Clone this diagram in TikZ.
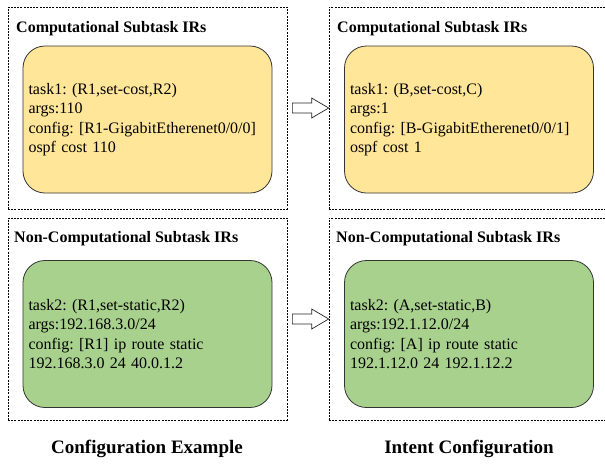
\documentclass[tikz,border=0pt]{standalone}
\usepackage{fontspec}
\setmainfont{Liberation Serif}
\frenchspacing
\usetikzlibrary{calc}

\tikzset{
    group/.style={draw,line width=0.7pt,dash pattern=on 2pt off 1.2pt,inner sep=0pt},
    grouptitle/.style={anchor=base west,inner sep=0pt,font=\fontsize{16}{19}\selectfont\bfseries},
    irbox/.style={draw=black!80,line width=0.8pt,rounded corners=22pt,inner xsep=5.5pt,
        minimum width=249pt,minimum height=147pt,text width=238pt,align=left,
        font=\fontsize{16}{19.3}\selectfont},
    caption/.style={inner sep=0pt,font=\fontsize{19}{22}\selectfont\bfseries},
    hollow/.style={draw=black!85,line width=0.7pt,fill=white}
}
\definecolor{compfill}{HTML}{FFE699}
\definecolor{noncompfill}{HTML}{A9D18E}

% hollow block arrow from the east side of #1 to the west side of #2
\newcommand{\blockarrow}[2]{%
    \draw[hollow] ($(#1.east)+(5pt,5pt)$) -- ($(#2.west)+(-17pt,5pt)$) -- ++(0,5pt)
        -- (#2.west) -- ++(-17pt,-10pt) -- ++(0,5pt)
        -- ($(#1.east)+(5pt,-5pt)$) -- cycle;}

\begin{document}
\begin{tikzpicture}[x=1pt,y=1pt]
        \useasboundingbox (0,0) rectangle (605,-464);

        % dashed groups
        \node[group,minimum width=279pt,minimum height=202pt] (exComp) at (147.5,-108){};
        \node[group,minimum width=282pt,minimum height=202pt] (inComp) at (470,-108){};
        \node[group,minimum width=279pt,minimum height=202pt] (exNon) at (147.5,-319){};
        \node[group,minimum width=282pt,minimum height=202pt] (inNon) at (470,-319){};

        \node[grouptitle] (exCompTitle) at (16,-32){Computational Subtask IRs};
        \node[grouptitle] (inCompTitle) at (337,-32){Computational Subtask IRs};
        \node[grouptitle] (exNonTitle) at (14,-242){Non-Computational Subtask IRs};
        \node[grouptitle] (inNonTitle) at (336,-242){Non-Computational Subtask IRs};

        % subtask IRs
        \node[irbox,fill=compfill] (exTask1) at (147.5,-119.5){task1: (R1,set-cost,R2)\\args:110\\config: [R1-GigabitEtherenet0/0/0]\\ospf cost 110};
        \node[irbox,fill=compfill] (inTask1) at (469,-119.5){task1: (B,set-cost,C)\\args:1\\config: [B-GigabitEtherenet0/0/1]\\ospf cost 1};
        \node[irbox,fill=noncompfill] (exTask2) at (147.5,-334){task2: (R1,set-static,R2)\\args:192.168.3.0/24\\config: [R1] ip route static\\192.168.3.0 24 40.0.1.2};
        \node[irbox,fill=noncompfill] (inTask2) at (469,-334){task2: (A,set-static,B)\\args:192.1.12.0/24\\config: [A] ip route static\\192.1.12.0 24 192.1.12.2};

        \blockarrow{exComp}{inComp}
        \blockarrow{exNon}{inNon}

        \node[caption] (exCaption) at (147,-449){Configuration Example};
        \node[caption] (inCaption) at (469,-449){Intent Configuration};
    \end{tikzpicture}
\end{document}
